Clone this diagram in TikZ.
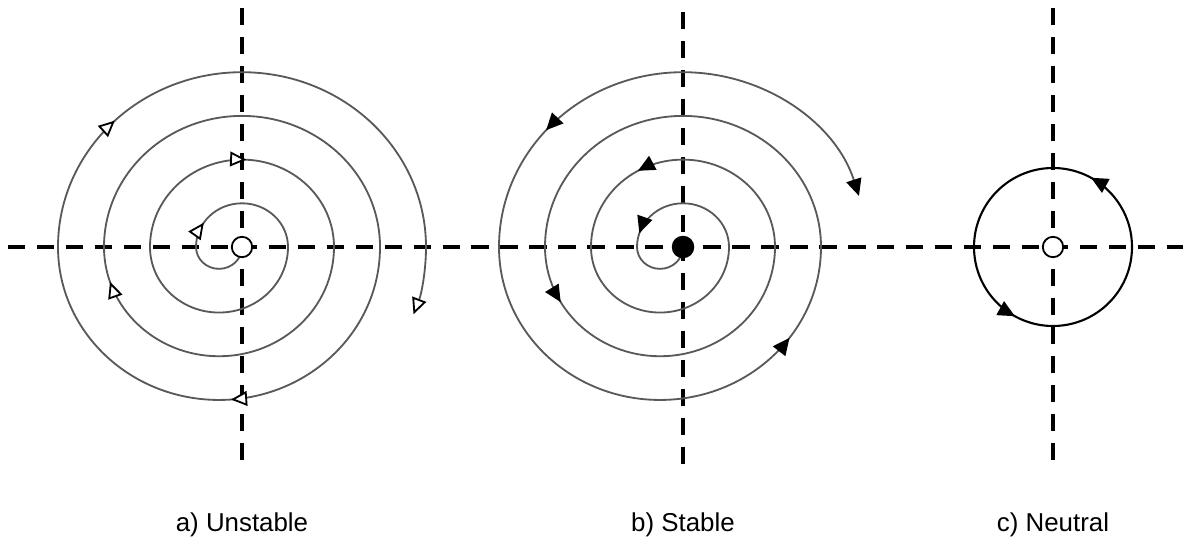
\documentclass[tikz,border=0pt]{standalone}
\usepackage{fontspec}
\setmainfont{Liberation Sans}
\usetikzlibrary{arrows.meta,decorations.markings}

\begin{document}
\begin{tikzpicture}[x=0.025cm,y=0.025cm,
  axis/.style={line width=2.6pt,dash pattern=on 12.4pt off 8.2pt},
  orbit/.style={draw=black!65,line width=1.3pt},
  ring/.style={draw=black,line width=1.5pt},
  ctr/.style={circle,draw,line width=1.3pt,fill=white,minimum size=14.5pt,inner sep=0pt},
  sink/.style={circle,fill=black,minimum size=16pt,inner sep=0pt},
  lbl/.style={font=\fontsize{18.4}{22}\selectfont},
  otip/.tip={Triangle[color=black,fill=white,line width=1.3pt,length=11.5pt,width=10.5pt]},
  ftip/.tip={Triangle[color=black,length=12pt,width=11pt]}]
  \useasboundingbox (0,-306) rectangle (1183,247);
  % centres of the three panels
  \coordinate (u) at (242,0);
  \coordinate (s) at (683,0);
  \coordinate (n) at (1053,0);
  % dashed axes
  \draw[axis] (8,0) -- (1183,0);
  \draw[axis] (u) ++(0,239) -- ++(0,-455);
  \draw[axis] (s) ++(0,235) -- ++(0,-455);
  \draw[axis] (n) ++(0,239) -- ++(0,-455);
  % a) unstable spiral, running outwards
  \draw[orbit,-otip,postaction={decorate},decoration={markings,
      mark=at position 0.037 with {\arrow{otip}},
      mark=at position 0.218 with {\arrow{otip}},
      mark=at position 0.392 with {\arrow{otip}},
      mark=at position 0.658 with {\arrow{otip}},
      mark=at position 0.812 with {\arrow{otip}}}]
    (u) \foreach \r in {23,69,115,161} {
      arc[start angle=0,end angle=-180,x radius=\r,y radius=0.95*\r]
      arc[start angle=180,end angle=0,x radius=\r+23,y radius=0.95*\r+21.85]}
    arc[start angle=0,end angle=-20,x radius=207,y radius=196.65];
  % b) stable spiral, running inwards
  \draw[orbit,-ftip,postaction={decorate},decoration={markings,
      mark=at position 0.034 with {\arrowreversed{ftip}},
      mark=at position 0.208 with {\arrowreversed{ftip}},
      mark=at position 0.402 with {\arrowreversed{ftip}},
      mark=at position 0.635 with {\arrowreversed{ftip}},
      mark=at position 0.846 with {\arrowreversed{ftip}}}]
    (s) \foreach \r in {23,69,115} {
      arc[start angle=0,end angle=-180,x radius=\r,y radius=0.95*\r]
      arc[start angle=180,end angle=0,x radius=\r+23,y radius=0.95*\r+21.85]}
    arc[start angle=0,end angle=-180,x radius=161,y radius=152.95]
    arc[start angle=180,end angle=17,x radius=184,y radius=174.8];
  % c) neutral orbit
  \draw[ring,postaction={decorate},decoration={markings,
      mark=at position 0.17 with {\arrow{ftip}},
      mark=at position 0.67 with {\arrow{ftip}}}]
    (n) circle[radius=79];
  % equilibrium points
  \node[ctr] (uc) at (u) {};
  \node[sink] (sc) at (s) {};
  \node[ctr] (nc) at (n) {};
  % captions
  \node[lbl] (ul) at (242,-278) {a) Unstable};
  \node[lbl] (sl) at (683,-278) {b) Stable};
  \node[lbl] (nl) at (1053,-278) {c) Neutral};
\end{tikzpicture}
\end{document}
